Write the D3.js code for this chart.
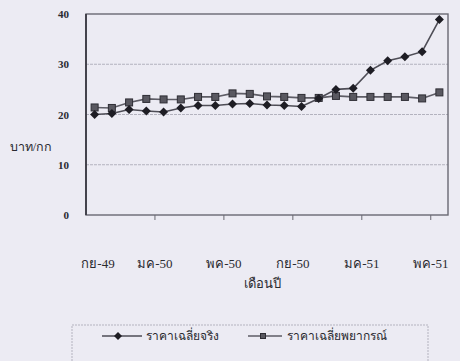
<!DOCTYPE html>
<html>
<head>
<meta charset="utf-8">
<script src="https://cdn.jsdelivr.net/npm/d3@7"></script>
<style>
  html, body { margin: 0; padding: 0; background: #ecebf3; }
  svg { display: block; }
  text { font-family: "Liberation Serif", "DejaVu Serif", serif; fill: #2a2a30; }
</style>
</head>
<body>
<svg id="chart" width="460" height="361"></svg>
<script>
// Monthly categories, ก.ย.-49 through พ.ค.-51
const months = d3.range(21);
const tickLabels = ["กย-49", "มค-50", "พค-50", "กย-50", "มค-51", "พค-51"];
const tickEvery = 4;

// Price series (บาท/กก)
const seriesNames = ["ราคาเฉลี่ยจริง", "ราคาเฉลี่ยพยากรณ์"];
const priceActual = [20.0, 20.2, 21.0, 20.7, 20.5, 21.3, 21.8, 21.8, 22.1, 22.2, 21.9,
                     21.8, 21.6, 23.2, 25.0, 25.2, 28.8, 30.7, 31.5, 32.5, 38.9];
const priceForecast = [21.4, 21.3, 22.4, 23.1, 23.0, 23.0, 23.5, 23.5, 24.2, 24.1, 23.6,
                       23.5, 23.3, 23.3, 23.7, 23.5, 23.5, 23.5, 23.5, 23.2, 24.4];
const yTicks = [0, 10, 20, 30, 40];

const svg = d3.select("#chart");
const plot = { left: 86, right: 448, top: 14, bottom: 215 };

const x = d3.scaleBand().domain(months).range([plot.left, plot.right]);
const y = d3.scaleLinear().domain([0, 40]).range([plot.bottom, plot.top]);
const cx = i => x(i) + x.bandwidth() / 2;

// horizontal gridlines
svg.append("g").selectAll("line")
  .data(yTicks.filter(v => v > 0 && v < 40))
  .join("line")
  .attr("x1", plot.left).attr("x2", plot.right)
  .attr("y1", d => y(d)).attr("y2", d => y(d))
  .attr("stroke", "#b3b2be").attr("stroke-width", 1)
  .attr("stroke-dasharray", "3,1");

// plot frame
svg.append("rect")
  .attr("x", plot.left).attr("y", plot.top)
  .attr("width", plot.right - plot.left).attr("height", plot.bottom - plot.top)
  .attr("fill", "none").attr("stroke", "#6a6972").attr("stroke-width", 1.4);
svg.append("line")
  .attr("x1", plot.left).attr("x2", plot.left)
  .attr("y1", plot.top).attr("y2", plot.bottom)
  .attr("stroke", "#3c3b44").attr("stroke-width", 1.8);

// y axis labels
svg.append("g").selectAll("text")
  .data(yTicks)
  .join("text")
  .attr("x", 69).attr("y", d => y(d) + 4)
  .attr("text-anchor", "end")
  .attr("font-size", 11).attr("font-weight", "bold")
  .text(d => d);

svg.append("text")
  .attr("x", 31).attr("y", 151)
  .attr("text-anchor", "middle")
  .attr("font-size", 12.5)
  .text("บาท/กก");

// x axis: ticks on category boundaries, label every 4 months
const tickCats = d3.range(1, months.length).filter(i => i % tickEvery === 0);
svg.append("g").selectAll("line")
  .data(tickCats)
  .join("line")
  .attr("x1", d => x(d)).attr("x2", d => x(d))
  .attr("y1", plot.bottom).attr("y2", plot.bottom + 5)
  .attr("stroke", "#6a6972").attr("stroke-width", 1);

svg.append("g").selectAll("text")
  .data(tickLabels)
  .join("text")
  .attr("x", (d, i) => Math.max(x(i * tickEvery), plot.left + 12))
  .attr("y", 268)
  .attr("text-anchor", "middle")
  .attr("font-size", 13)
  .text(d => d);

svg.append("text")
  .attr("x", 262).attr("y", 288)
  .attr("text-anchor", "middle")
  .attr("font-size", 13)
  .text("เดือนปี");

// series
const line = d3.line().x((d, i) => cx(i)).y(d => y(d));

svg.append("path").datum(priceForecast)
  .attr("d", line).attr("fill", "none")
  .attr("stroke", "#5e5d66").attr("stroke-width", 1.6);
svg.append("path").datum(priceActual)
  .attr("d", line).attr("fill", "none")
  .attr("stroke", "#4e4d56").attr("stroke-width", 1.6);

const square = (g, px, py, s) => g.append("rect")
  .attr("x", px - s / 2).attr("y", py - s / 2).attr("width", s).attr("height", s)
  .attr("fill", "#595860").attr("stroke", "#2e2d34").attr("stroke-width", 1);
const diamond = (g, px, py, s) => g.append("path")
  .attr("d", `M${px},${py - s}L${px + s},${py}L${px},${py + s}L${px - s},${py}Z`)
  .attr("fill", "#1e1d24");

const marks = svg.append("g");
priceForecast.forEach((v, i) => square(marks, cx(i), y(v), 7));
priceActual.forEach((v, i) => diamond(marks, cx(i), y(v), 4.5));

// legend
svg.append("rect")
  .attr("x", 72).attr("y", 325).attr("width", 356).attr("height", 40)
  .attr("fill", "none").attr("stroke", "#b4b3bf").attr("stroke-width", 1)
  .attr("stroke-dasharray", "2,1");

const lg = svg.append("g");
lg.append("line").attr("x1", 102).attr("x2", 142).attr("y1", 336).attr("y2", 336)
  .attr("stroke", "#4e4d56").attr("stroke-width", 1.6);
diamond(lg, 118, 336, 4);
lg.append("text").attr("x", 146).attr("y", 340).attr("font-size", 12).text(seriesNames[0]);

lg.append("line").attr("x1", 248).attr("x2", 282).attr("y1", 336).attr("y2", 336)
  .attr("stroke", "#5e5d66").attr("stroke-width", 1.6);
square(lg, 263, 336, 5);
lg.append("text").attr("x", 287).attr("y", 340).attr("font-size", 12).text(seriesNames[1]);
</script>
</body>
</html>
